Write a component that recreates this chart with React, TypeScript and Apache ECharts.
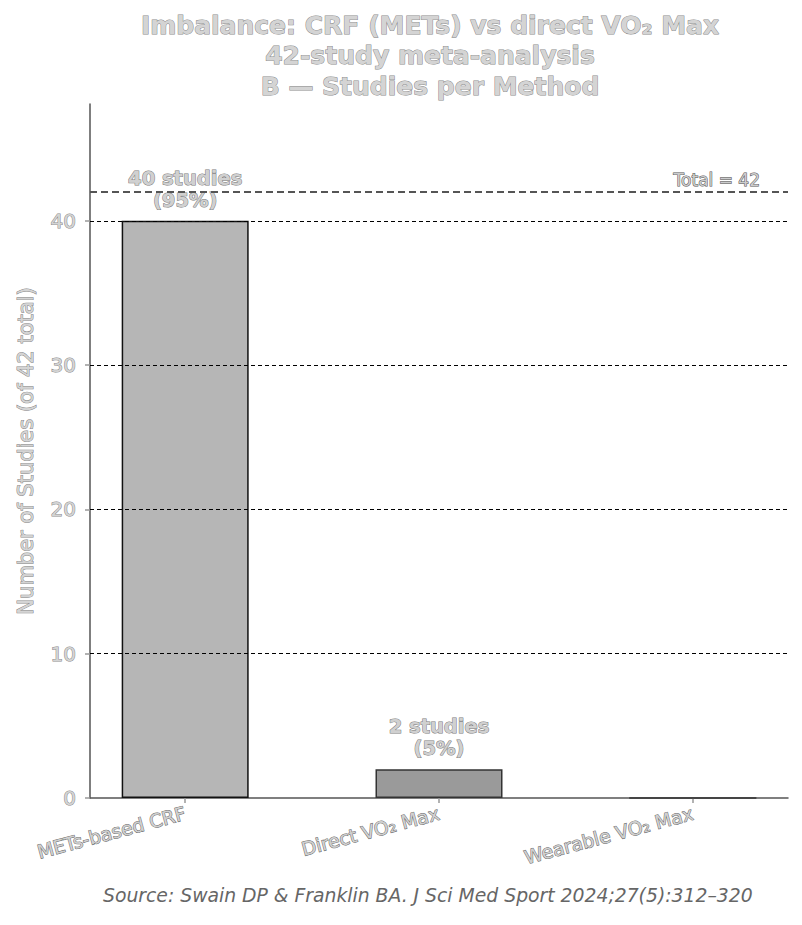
import React, { useEffect, useRef } from 'react'
import * as echarts from 'echarts'

const methods = ['METs-based CRF', 'Direct VO₂ Max', 'Wearable VO₂ Max']
const studyCounts = [40, 2, 0]
const barColors = ['#b6b6b6', '#9a9a9a', '#d0d0d0']
const totalStudies = 42
const yTicks = [0, 10, 20, 30, 40]
const gridValues = [10, 20, 30, 40]
const titleLines = ['Imbalance: CRF (METs) vs direct VO₂ Max', '42-study meta-analysis', 'B — Studies per Method']
const sourceText = 'Source: Swain DP & Franklin BA. J Sci Med Sport 2024;27(5):312–320'

const FONT = '"DejaVu Sans", sans-serif'
const outlined = { color: '#d4d4d4', textBorderColor: '#8a8a8a', textBorderWidth: 1 }

const App = () => {
	const chartRef = useRef(null)

	useEffect(() => {
		const chart = echarts.init(chartRef.current, null, { renderer: 'svg' })

		const options = {
			animation: false,
			backgroundColor: '#fff',
			title: {
				text: titleLines.join('\n'),
				left: 425,
				top: 5,
				textAlign: 'center',
				textStyle: {
					fontFamily: FONT,
					fontSize: 25,
					fontWeight: 'bold',
					lineHeight: 30.5,
					...outlined,
				},
			},
			graphic: [
				{
					type: 'text',
					left: 103,
					top: 886,
					style: {
						text: sourceText,
						fontFamily: FONT,
						fontSize: 18.8,
						fontStyle: 'italic',
						fill: '#666',
					},
				},
			],
			grid: { left: 90, right: 14, top: 104, bottom: 127 },
			xAxis: {
				type: 'value',
				min: -0.375,
				max: 2.375,
				splitLine: { show: false },
				axisLine: { lineStyle: { color: '#555', width: 1.5 } },
				axisTick: { customValues: [0, 1, 2], length: 5, lineStyle: { color: '#999', width: 1.5 } },
				axisLabel: {
					customValues: [0, 1, 2],
					formatter: (v) => methods[Math.round(v)],
					rotate: 15,
					margin: 15,
					fontFamily: FONT,
					fontSize: 18.8,
					color: '#d0d0d0',
					textBorderColor: '#6a6a6a',
					textBorderWidth: 1,
				},
			},
			yAxis: {
				type: 'value',
				min: 0,
				max: 48.1,
				name: 'Number of Studies (of 42 total)',
				nameLocation: 'middle',
				nameGap: 54,
				nameTextStyle: { fontFamily: FONT, fontSize: 21, ...outlined },
				splitLine: { show: false },
				axisLine: { show: true, onZero: false, lineStyle: { color: '#555', width: 1.5 } },
				axisTick: { show: true, customValues: yTicks, length: 5, lineStyle: { color: '#999', width: 1.5 } },
				axisLabel: {
					customValues: yTicks,
					margin: 14,
					fontFamily: FONT,
					fontSize: 20,
					...outlined,
				},
			},
			series: [
				{
					// gridlines behind the bars
					type: 'line',
					data: [],
					z: 1,
					silent: true,
					markLine: {
						symbol: 'none',
						silent: true,
						label: { show: false },
						lineStyle: { color: '#000', type: [4, 3], width: 1.2 },
						data: gridValues.map((v) => ({ yAxis: v })),
					},
				},
				{
					type: 'bar',
					z: 2,
					barWidth: 127,
					data: studyCounts.map((v, i) => ({
						value: [i, v],
						itemStyle: {
							color: barColors[i],
							borderColor: i === 0 ? '#111' : '#333',
							borderWidth: i === 2 ? 1 : 1.5,
						},
					})),
					label: {
						show: true,
						position: 'top',
						distance: 10,
						formatter: (p) => {
							const v = p.value[1]
							if (!v) return ''
							return `${v} studies\n(${Math.round((v / totalStudies) * 100)}%)`
						},
						fontFamily: FONT,
						fontSize: 19.5,
						fontWeight: 'bold',
						lineHeight: 21.5,
						color: '#d0d0d0',
						textBorderColor: '#7a7a7a',
						textBorderWidth: 1,
					},
					markLine: {
						symbol: 'none',
						silent: true,
						lineStyle: { color: '#555', type: [7, 4], width: 2 },
						label: {
							position: 'insideEndTop',
							formatter: `Total = ${totalStudies}`,
							fontFamily: FONT,
							fontSize: 17,
							color: '#ccc',
							textBorderColor: '#555',
							textBorderWidth: 1,
							padding: [0, 24, 0, 0],
							distance: 4,
						},
						data: [{ yAxis: totalStudies }],
					},
				},
			],
		}

		chart.setOption(options)

		return () => {
			chart.dispose()
		}
	}, [])

	return (
		<div
			ref={chartRef}
			style={{ position: 'absolute', left: 0, top: 0, width: '802px', height: '925px' }}
		/>
	)
}

export default App
